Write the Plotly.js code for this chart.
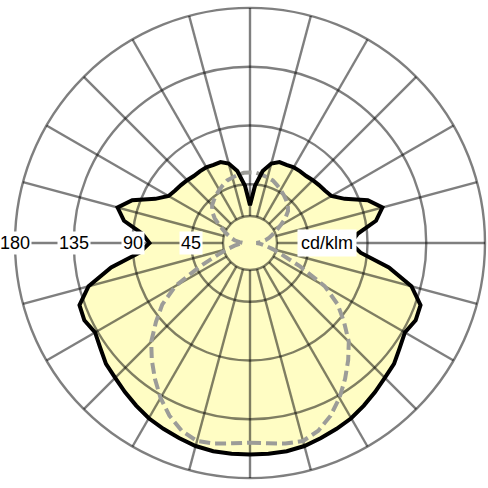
<!DOCTYPE html>
<html>
<head>
<meta charset="utf-8">
<script src="https://cdn.plot.ly/plotly-3.0.1.min.js"></script>
<style>
  html, body { margin: 0; padding: 0; background: #fff; }
  #graph { width: 488px; height: 488px; }
</style>
</head>
<body>
<div id="graph"></div>
<script>
// gamma angles, 0 = straight down
const gamma = [0, 5, 10, 15, 20, 25, 30, 35, 40, 45, 50, 55, 60, 65, 70, 75, 80, 85, 90,
  95, 100, 105, 110, 115, 120, 125, 130, 135, 140, 145, 150, 155, 160, 165, 170, 175, 180]

// C0-C180 plane (solid, filled)
const c0Plane = [162, 162, 162, 161, 159, 157, 155, 152, 149, 146, 144, 140, 137, 140, 139, 128, 108, 85, 77,
  83, 98, 105, 96, 80, 72, 70, 69, 68, 67, 67, 67, 66, 66, 63, 56, 44, 29]

// C90-C270 plane (dashed)
const c90Plane = [153, 154, 156, 157, 153, 146, 137, 127, 117, 107, 94, 82, 66, 42, 26, 18, 12, 8, 5,
  8, 12, 15, 18, 22, 27, 33, 38, 41, 43, 45, 47, 49, 51, 52, 53, 54, 54]

const ringTicks = [45, 90, 135, 180]
const unitLabel = 'cd/klm'

const rMax = 180
const hole = 0.115
const gridColor = 'rgba(0,0,0,0.5)'

// both halves of a plane, right side then left side
function mirror(values) {
  let theta = []
  let r = []
  for (var i = 0; i < gamma.length; i++) {
    theta.push(gamma[i])
    r.push(values[i])
  }
  for (var j = gamma.length - 1; j >= 0; j--) {
    theta.push(360 - gamma[j])
    r.push(values[j])
  }
  return { theta: theta, r: r }
}

const solid = mirror(c0Plane)
const dashed = mirror(c90Plane)

const hiddenAxes = {
  radialaxis: { range: [0, rMax], visible: false },
  angularaxis: { rotation: 270, direction: 'counterclockwise', visible: false }
}

const traces = [
  {
    type: 'scatterpolar',
    subplot: 'polar',
    r: solid.r,
    theta: solid.theta,
    mode: 'lines',
    fill: 'toself',
    fillcolor: 'rgb(255,253,196)',
    line: { width: 0, color: 'rgba(0,0,0,0)' },
    hoverinfo: 'skip'
  },
  {
    type: 'scatterpolar',
    subplot: 'polar2',
    r: [ringTicks[ringTicks.length - 1]],
    theta: [0],
    mode: 'none',
    hoverinfo: 'skip'
  },
  {
    type: 'scatterpolar',
    subplot: 'polar3',
    r: dashed.r,
    theta: dashed.theta,
    mode: 'lines',
    line: { color: '#9c9c98', width: 4, dash: '11px,5px' },
    hoverinfo: 'skip'
  },
  {
    type: 'scatterpolar',
    subplot: 'polar3',
    r: solid.r,
    theta: solid.theta,
    mode: 'lines',
    line: { color: '#000', width: 4 },
    hoverinfo: 'skip'
  }
]

// tick labels sit on the left horizontal, unit label on the right
const labelFont = { family: 'Liberation Sans, Arial, sans-serif', size: 18, color: '#000' }
const annotations = ringTicks.map(function (t) {
  return {
    xref: 'paper', yref: 'paper',
    x: 0.5 - t / (2 * rMax), y: 0.5,
    xanchor: 'center', yanchor: 'middle',
    text: String(t),
    showarrow: false,
    bgcolor: '#fff',
    borderpad: 1,
    font: labelFont
  }
})
annotations.push({
  xref: 'paper', yref: 'paper',
  x: 0.5 + 59 / (2 * rMax), y: 0.5,
  xanchor: 'center', yanchor: 'middle',
  text: unitLabel,
  showarrow: false,
  bgcolor: '#fff',
  borderpad: 3,
  font: labelFont
})

const layout = {
  width: 488,
  height: 488,
  margin: { l: 15, r: 3, t: 8, b: 10 },
  paper_bgcolor: '#fff',
  showlegend: false,
  polar: Object.assign({ domain: { x: [0, 1], y: [0, 1] }, bgcolor: '#fff' }, hiddenAxes),
  polar2: {
    domain: { x: [0, 1], y: [0, 1] },
    bgcolor: 'rgba(0,0,0,0)',
    hole: hole,
    radialaxis: {
      range: [rMax * hole, rMax],
      tickvals: ringTicks,
      showticklabels: false,
      ticks: '',
      showline: false,
      gridcolor: gridColor,
      gridwidth: 2.4
    },
    angularaxis: {
      rotation: 270,
      direction: 'counterclockwise',
      dtick: 15,
      showticklabels: false,
      ticks: '',
      showline: true,
      linecolor: gridColor,
      linewidth: 2.4,
      gridcolor: gridColor,
      gridwidth: 2.4
    }
  },
  polar3: Object.assign({ domain: { x: [0, 1], y: [0, 1] }, bgcolor: 'rgba(0,0,0,0)' }, hiddenAxes),
  annotations: annotations
}

Plotly.newPlot('graph', traces, layout, { staticPlot: true, displayModeBar: false })
</script>
</body>
</html>
